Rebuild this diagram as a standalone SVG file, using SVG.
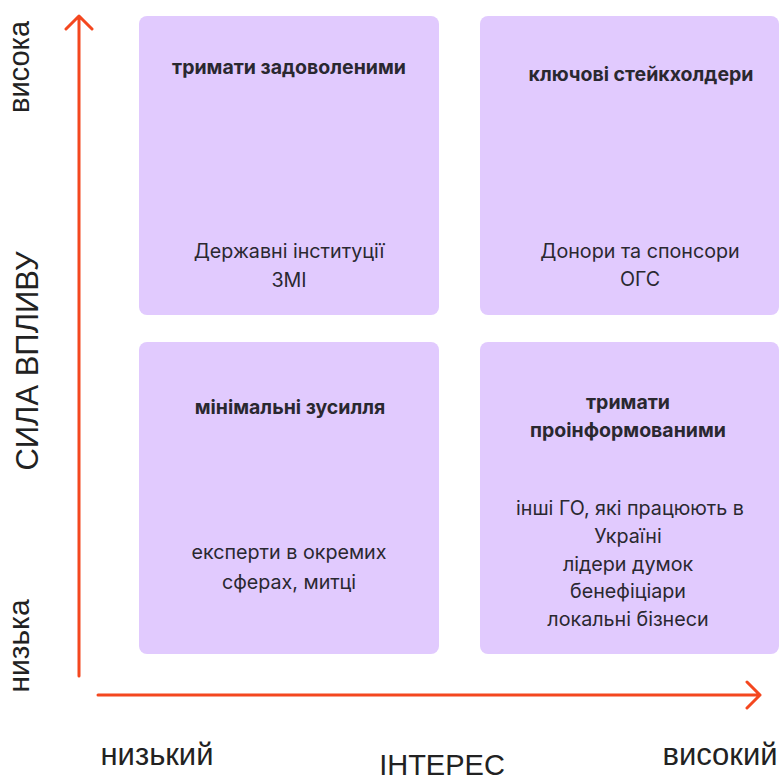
<svg xmlns="http://www.w3.org/2000/svg" width="781" height="778" viewBox="0 0 781 778">
  <style>
    .box { fill: #E1CAFE; }
    .title { font-family: Inter, "Noto Sans", sans-serif; font-weight: 700; font-size: 19.5px; fill: #2A2830; text-anchor: middle; }
    .body { font-family: Inter, "Noto Sans", sans-serif; font-size: 19.7px; fill: #2A2830; text-anchor: middle; }
    .axis { fill: none; stroke: #F4471F; stroke-width: 3; stroke-linecap: round; stroke-linejoin: round; }
    .lbl { font-family: "Liberation Sans", Arial, sans-serif; font-size: 29px; fill: #222222; text-anchor: middle; }
    .lbl-l { font-size: 31px; }
  </style>

  <!-- axes -->
  <g id="connectors">
    <path class="axis" d="M79 676 V16 M66 29 L79 16 L92 29"/>
    <path class="axis" d="M98 695 H760 M747 682 L760 695 L747 708"/>
  </g>

  <!-- axis labels -->
  <g id="axis-labels">
    <text class="lbl" transform="translate(29 67) rotate(-90)">висока</text>
    <text class="lbl lbl-l" transform="translate(38 361) rotate(-90)">СИЛА ВПЛИВУ</text>
    <text class="lbl" style="font-size:30px" transform="translate(29 646) rotate(-90)">низька</text>
    <text class="lbl lbl-l" x="157" y="765">низький</text>
    <text class="lbl" x="442" y="775">ІНТЕРЕС</text>
    <text class="lbl lbl-l" x="720" y="765">високий</text>
  </g>

  <!-- quadrants -->
  <g id="keep-satisfied">
    <rect class="box" x="139" y="16" width="300" height="299" rx="8"/>
    <text class="title" x="289" y="74">тримати задоволеними</text>
    <text class="body" x="289" y="258">Державні інституції</text>
    <text class="body" x="289" y="287">ЗМІ</text>
  </g>

  <g id="key-stakeholders">
    <rect class="box" x="480" y="16" width="299" height="299" rx="8"/>
    <text class="title" x="641" y="81">ключові стейкхолдери</text>
    <text class="body" x="640" y="258">Донори та спонсори</text>
    <text class="body" x="640" y="286">ОГС</text>
  </g>

  <g id="minimal-effort">
    <rect class="box" x="139" y="342" width="300" height="312" rx="8"/>
    <text class="title" x="290" y="414">мінімальні зусилля</text>
    <text class="body" x="289" y="559">експерти в окремих</text>
    <text class="body" x="289" y="589">сферах, митці</text>
  </g>

  <g id="keep-informed">
    <rect class="box" x="480" y="342" width="299" height="312" rx="8"/>
    <text class="title" x="628" y="409">тримати</text>
    <text class="title" x="628" y="437">проінформованими</text>
    <text class="body" x="630" y="515">інші ГО, які працюють в</text>
    <text class="body" x="628" y="543">Україні</text>
    <text class="body" x="628" y="571">лідери думок</text>
    <text class="body" x="628" y="598">бенефіціари</text>
    <text class="body" x="628" y="626">локальні бізнеси</text>
  </g>
</svg>
